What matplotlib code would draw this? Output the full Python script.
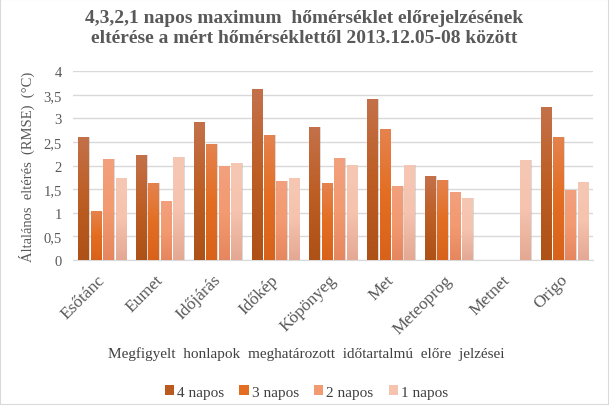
import matplotlib
matplotlib.use("Agg")
import matplotlib.pyplot as plt
import numpy as np
from matplotlib.ticker import FuncFormatter
from matplotlib.colors import LinearSegmentedColormap
from matplotlib.transforms import ScaledTranslation

categories = ["Esőtánc", "Eumet", "Időjárás", "Időkép", "Köpönyeg", "Met", "Meteoprog", "Metnet", "Origo"]
series_names = ["4 napos", "3 napos", "2 napos", "1 napos"]
napos4 = [2.61, 2.22, 2.92, 3.62, 2.82, 3.41, 1.78, np.nan, 3.24]
napos3 = [1.04, 1.63, 2.46, 2.65, 1.63, 2.78, 1.69, np.nan, 2.61]
napos2 = [2.14, 1.25, 1.99, 1.67, 2.16, 1.57, 1.44, np.nan, 1.48]
napos1 = [1.74, 2.18, 2.05, 1.74, 2.01, 2.01, 1.31, 2.12, 1.65]
colors = ["#BA5A1E", "#E36E22", "#F29A70", "#F5C3AE"]
# gradient stops: bottom, middle, top
gradients = [
    ["#AE5116", "#BD5E24", "#C4714A"],
    ["#D9621A", "#E36E22", "#E5834F"],
    ["#E6865E", "#F39A70", "#F2A07E"],
    ["#E4A893", "#F5C3AE", "#F6C8B4"],
]

plt.rcParams['font.family'] = ['Liberation Serif', 'DejaVu Serif']

fig = plt.figure(figsize=(6.09, 4.06), dpi=100)
ax = fig.add_axes([0.12, 0.357, 0.854, 0.465])

x = np.arange(len(categories))
step = 0.215
width = 0.175
ax.set_xlim(-0.5, len(categories) - 0.5)
ax.set_ylim(0, 4)
grad = np.linspace(0, 1, 256).reshape(-1, 1)
for i, (vals, name, c, g) in enumerate(zip([napos4, napos3, napos2, napos1], series_names, colors, gradients)):
    offs = (i - 1.5) * step
    ax.bar(x + offs + 0.025, vals, width, color="#9A9A9A", alpha=0.35, zorder=2, linewidth=0)
    bars = ax.bar(x + offs, vals, width, color=c, label=name, zorder=3, linewidth=0)
    cmap = LinearSegmentedColormap.from_list(f"g{i}", g)
    for b in bars:
        h = b.get_height()
        if not np.isfinite(h) or h <= 0:
            continue
        x0 = b.get_x()
        im = ax.imshow(grad, cmap=cmap, origin="lower", aspect="auto",
                       extent=[x0, x0 + b.get_width(), 0, h], zorder=3.5, interpolation="bilinear")
        im.set_clip_path(b)
ax.set_xlim(-0.5, len(categories) - 0.5)
ax.set_ylim(0, 4)
ax.set_aspect("auto")

ax.set_yticks(np.arange(0, 4.01, 0.5))
ax.yaxis.set_major_formatter(FuncFormatter(lambda v, p: (f"{v:g}").replace(".", ",")))
ax.grid(axis="y", color="#D9D9D9", linewidth=1, zorder=0)
ax.set_axisbelow(True)
for s in ["top", "right", "left"]:
    ax.spines[s].set_visible(False)
ax.spines["bottom"].set_color("#D9D9D9")
ax.tick_params(axis="both", length=0, labelcolor="#595959", labelsize=10.5)
ax.tick_params(axis="y", pad=8)
ax.set_xticks(x)
ax.set_xticklabels(categories, rotation=45, ha="right", va="top", rotation_mode="anchor", fontsize=12.5)
ax.tick_params(axis="x", pad=6)
shift = ScaledTranslation(-5 / 100, -3 / 100, fig.dpi_scale_trans)
for lbl in ax.get_xticklabels():
    lbl.set_transform(lbl.get_transform() + shift)

ax.set_ylabel("Általános  eltérés  (RMSE)  (°C)", fontsize=10.5, color="#595959", labelpad=6)
fig.text(0.503, 0.127, "Megfigyelt  honlapok  meghatározott  időtartalmú  előre  jelzései",
         ha="center", va="center", fontsize=11, color="#404040")

fig.suptitle("4,3,2,1 napos maximum  hőmérséklet előrejelzésének\neltérése a mért hőmérséklettől 2013.12.05-08 között",
             x=0.5, y=0.975, fontsize=14, fontweight="bold", color="#595959", linespacing=1.25)

handles, labels = ax.get_legend_handles_labels()
fig.legend(handles, labels, loc="center", bbox_to_anchor=(0.503, 0.032), ncol=4, frameon=False,
           fontsize=11, handlelength=0.6, handleheight=0.6, handletextpad=0.2, columnspacing=1.0,
           labelcolor="#404040")

fig.patches.append(plt.Rectangle((0, 0), 1, 1, transform=fig.transFigure, fill=False,
                                 edgecolor="#D9D9D9", linewidth=1.5))
fig.savefig("out.png", dpi=100)
